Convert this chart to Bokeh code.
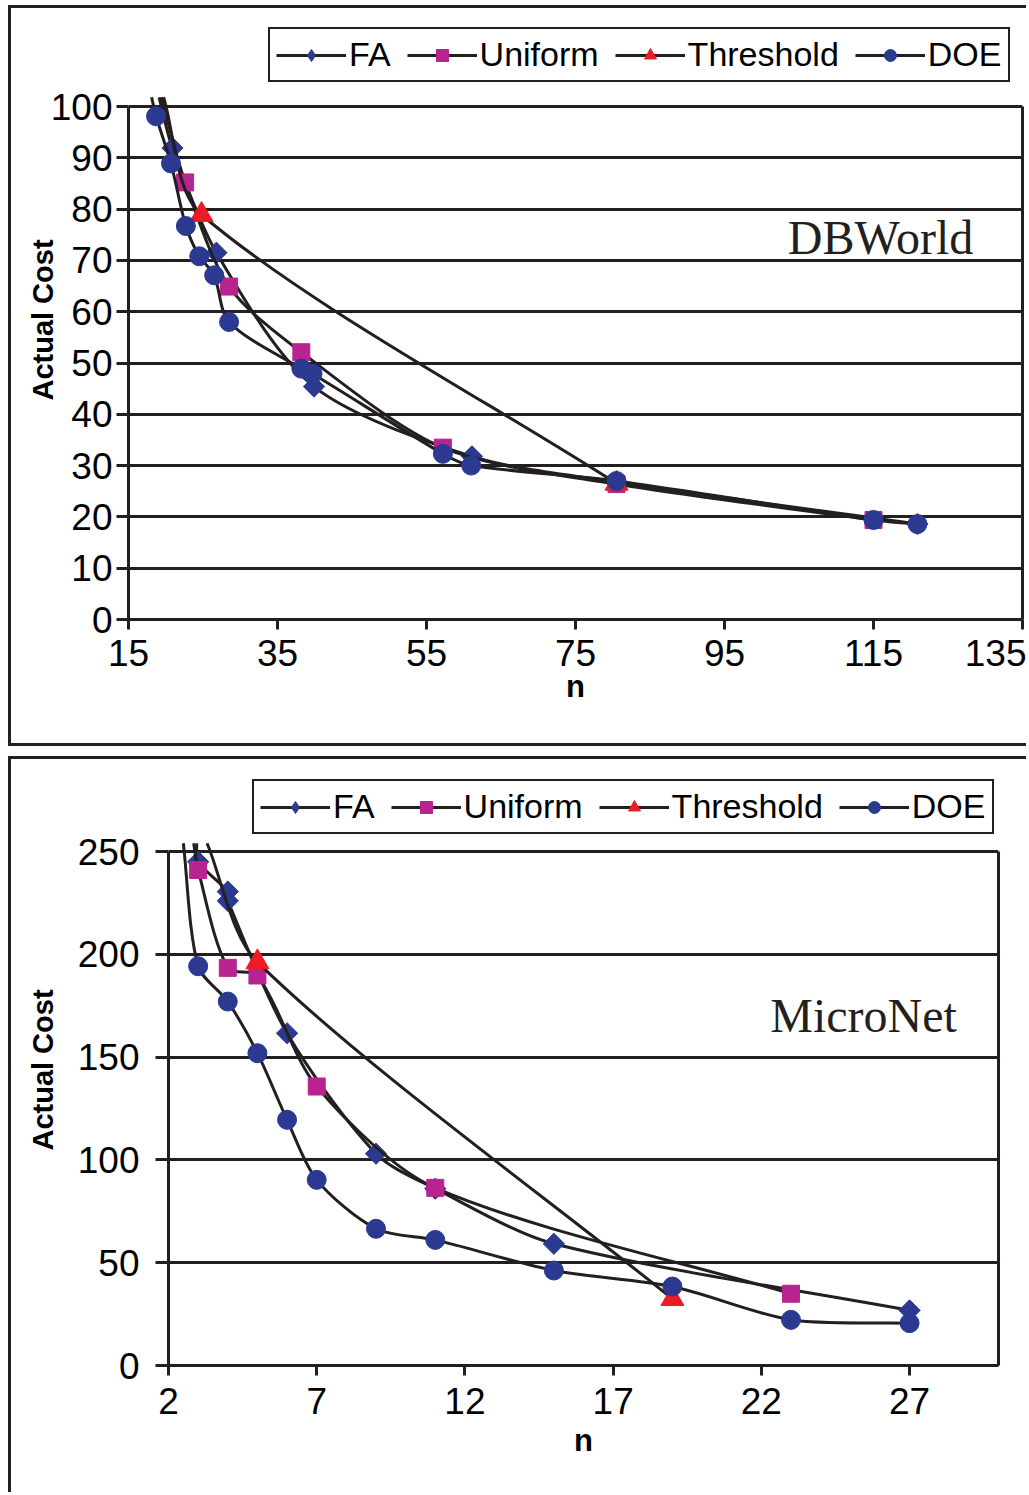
import numpy as np
from bokeh.plotting import figure
from bokeh.models import (ColumnDataSource, Legend, LegendItem, Label, FixedTicker, Range1d,
                          LinearAxis)
from bokeh.embed import file_html
from bokeh.resources import INLINE

# ---------------- DBWorld (top) ----------------
db_fa_n = [20.9, 26.8, 39.9, 61.1, 80.5, 120.9]
db_fa_cost = [91.9, 71.5, 45.4, 31.8, 26.8, 18.6]
db_uni_n = [22.6, 28.5, 38.2, 57.2, 80.5, 115.0]
db_uni_cost = [85.2, 64.9, 52.1, 33.5, 26.4, 19.4]
db_thr_n = [24.8, 80.5]
db_thr_cost = [78.9, 26.5]
db_doe_n = [18.7, 20.7, 22.7, 24.5, 26.5, 28.5, 38.2, 39.7, 57.2, 61.0, 80.5, 115.0, 120.9]
db_doe_cost = [98.1, 88.9, 76.7, 70.8, 67.1, 58.0, 48.9, 47.9, 32.3, 30.0, 27.0, 19.4, 18.6]
# where each curve leaves the top of the plot area (FA, Uniform, Threshold, DOE)
db_lead_n = [19.1, 19.4, 19.7, 18.1]
db_lead_cost = [101.8, 101.8, 101.8, 101.8]
db_xticks = [15, 35, 55, 75, 95, 115, 135]
db_yticks = [0, 10, 20, 30, 40, 50, 60, 70, 80, 90, 100]

# ---------------- MicroNet (bottom) ----------------
mn_fa_n = [3, 4, 4, 6, 9, 11, 15, 27]
mn_fa_cost = [245, 230.5, 226, 161.6, 103, 86, 59.2, 26.8]
mn_uni_n = [3, 4, 5, 7, 11, 23]
mn_uni_cost = [241, 193.4, 189.7, 135.7, 86.4, 34.9]
mn_thr_n = [5, 19]
mn_thr_cost = [196.2, 32.4]
mn_doe_n = [3, 4, 5, 6, 7, 9, 11, 15, 19, 23, 27]
mn_doe_cost = [194.2, 177, 151.9, 119.5, 90.3, 66.5, 61.1, 46.2, 38.4, 22.2, 20.6]
mn_lead_n = [2.95, 2.85, 3.3, 2.5]
mn_lead_cost = [254, 254, 254, 254]
mn_xticks = [2, 7, 12, 17, 22, 27]
mn_yticks = [0, 50, 100, 150, 200, 250]

series_names = ["FA", "Uniform", "Threshold", "DOE"]

BLUE = "#2B3990"
MAGENTA = "#B8238F"
RED = "#ED1C24"
INK = "#231F20"
SANS = "Liberation Sans"


def smooth_segments(xs, ys, kx, ky, tension=0.85):
    """Bezier control points (Catmull-Rom style) for a smoothed line through the points."""
    x = np.asarray(xs, float) * kx
    y = np.asarray(ys, float) * ky
    n = len(x)
    dx = np.zeros(n)
    dy = np.zeros(n)
    for i in range(n):
        a, b = max(i - 1, 0), min(i + 1, n - 1)
        vx, vy = x[b] - x[a], y[b] - y[a]
        L = np.hypot(vx, vy) or 1.0
        dx[i], dy[i] = vx / L, vy / L
    seg = np.hypot(np.diff(x), np.diff(y))
    c0x = x[:-1] + dx[:-1] * seg / 3 * tension
    c0y = y[:-1] + dy[:-1] * seg / 3 * tension
    c1x = x[1:] - dx[1:] * seg / 3 * tension
    c1y = y[1:] - dy[1:] * seg / 3 * tension
    return dict(x0=x[:-1] / kx, y0=y[:-1] / ky, x1=x[1:] / kx, y1=y[1:] / ky,
                cx0=c0x / kx, cy0=c0y / ky, cx1=c1x / kx, cy1=c1y / ky)


def make_panel(data, leads, xr, yr, ytop, xticks, yticks, kx, ky, mb, size,
               title_text, title_pos, legend_xy, ylab_standoff, ytitle_standoff,
               ytick_out, xlab_standoff, xtitle_standoff):
    w, h = size
    p = figure(width=w, height=h, output_backend="svg", toolbar_location=None,
               x_range=Range1d(*xr), y_range=Range1d(0, ytop),
               min_border_left=mb[0], min_border_right=mb[1],
               min_border_top=mb[2], min_border_bottom=mb[3])
    p.background_fill_color = "white"
    p.border_fill_color = "white"
    p.outline_line_color = None
    p.xgrid.visible = False
    p.ygrid.grid_line_color = INK
    p.ygrid.grid_line_width = 3
    p.xaxis.ticker = FixedTicker(ticks=xticks)
    p.yaxis.ticker = FixedTicker(ticks=yticks)
    p.yaxis.bounds = yr
    for ax in (p.xaxis[0], p.yaxis[0]):
        ax.axis_line_color = INK
        ax.axis_line_width = 3
        ax.major_tick_line_color = INK
        ax.major_tick_line_width = 3
        ax.major_tick_in = 0
        ax.minor_tick_line_color = None
        ax.major_label_text_font = SANS
        ax.major_label_text_font_size = "37px"
        ax.major_label_text_color = "black"
        ax.axis_label_text_font = SANS
        ax.axis_label_text_font_style = "bold"
        ax.axis_label_text_color = "black"
    p.xaxis.major_tick_out = 10
    p.yaxis.major_tick_out = ytick_out
    p.xaxis.major_label_standoff = xlab_standoff
    p.yaxis.major_label_standoff = ylab_standoff
    p.xaxis.axis_label = "n"
    p.xaxis.axis_label_text_font_size = "31px"
    p.xaxis.axis_label_standoff = xtitle_standoff
    p.yaxis.axis_label = "Actual Cost"
    p.yaxis.axis_label_text_font_size = "29px"
    p.yaxis.axis_label_standoff = ytitle_standoff

    # right-hand border of the plot area (only as tall as the value axis)
    rax = LinearAxis(bounds=yr, ticker=FixedTicker(ticks=[]), axis_line_color=INK,
                     axis_line_width=3, major_tick_out=0, major_tick_in=0,
                     minor_tick_out=0, minor_tick_in=0, major_label_standoff=0,
                     major_label_text_font_size="0px")
    p.add_layout(rax, "right")

    styles = [
        dict(color=BLUE, marker="square", size=15, angle=np.pi / 4, legend_marker="diamond"),
        dict(color=MAGENTA, marker="square", size=17, angle=0, legend_marker=None),
        dict(color=RED, marker="triangle", size=23, angle=0, legend_marker=None),
        dict(color=BLUE, marker="circle", size=19, angle=0, legend_marker=None),
    ]
    items = []
    for (xs, ys), (lx, ly), st, name in zip(data, leads, styles, series_names):
        segs = ColumnDataSource(smooth_segments([lx] + list(xs), [ly] + list(ys), kx, ky))
        br = p.bezier(x0="x0", y0="y0", x1="x1", y1="y1", cx0="cx0", cy0="cy0",
                      cx1="cx1", cy1="cy1", source=segs, line_color=INK, line_width=3)
        pts = ColumnDataSource(dict(x=xs, y=ys))
        sr = p.scatter(x="x", y="y", source=pts, marker=st["marker"], size=st["size"],
                       angle=st["angle"], fill_color=st["color"], line_color=st["color"],
                       line_width=1)
        if st["legend_marker"]:
            # legend swatch: the legend does not rotate markers, so use an un-rotated
            # diamond on the same points, drawn with zero size in the plot itself
            lr = p.scatter(x="x", y="y", source=pts, marker=st["legend_marker"], size=0,
                           fill_color=st["color"], line_color=st["color"])
            items.append(LegendItem(label=name, renderers=[br, lr]))
        else:
            items.append(LegendItem(label=name, renderers=[br, sr]))

    legend = Legend(items=items, orientation="horizontal", location=legend_xy,
                    label_text_font=SANS, label_text_font_size="34px",
                    label_text_color="black", glyph_width=70, glyph_height=30,
                    label_standoff=3, spacing=16, padding=6, margin=0,
                    border_line_color=INK, border_line_width=2.5, border_line_alpha=1.0,
                    background_fill_color="white", background_fill_alpha=1.0)
    p.add_layout(legend, "center")

    p.add_layout(Label(x=title_pos[0], y=title_pos[1], text=title_text,
                       text_font="Liberation Serif", text_font_size="48px",
                       text_color=INK, text_baseline="middle", text_align="left"))
    return p


top_data = [(db_fa_n, db_fa_cost), (db_uni_n, db_uni_cost),
            (db_thr_n, db_thr_cost), (db_doe_n, db_doe_cost)]
top_leads = list(zip(db_lead_n, db_lead_cost))
bot_data = [(mn_fa_n, mn_fa_cost), (mn_uni_n, mn_uni_cost),
            (mn_thr_n, mn_thr_cost), (mn_doe_n, mn_doe_cost)]
bot_leads = list(zip(mn_lead_n, mn_lead_cost))

# top: frame 128..1022 x 20..619 (value 100 at y=106)
p1 = make_panel(top_data, top_leads, (15, 135), (0, 100), 100 * 599 / 513,
                db_xticks, db_yticks, 7.45, 5.13,
                (117, 7, 12, 130), (1018, 741), "DBWorld", (103.5, 74.5),
                legend_xy=(140, 537), ylab_standoff=4, ytitle_standoff=-11, ytick_out=12,
                xlab_standoff=10, xtitle_standoff=0)
p1.margin = (5, 0, 0, 8)
p1.styles = {"border-left": "3px solid #231F20", "border-top": "3px solid #231F20",
             "border-bottom": "3px solid #231F20"}

# bottom: frame 168..998 x 774..1365 (value 250 at y=851)
p2 = make_panel(bot_data, bot_leads, (2, 30), (0, 250), 250 * 591 / 514,
                mn_xticks, mn_yticks, 29.68, 2.056,
                (157, 31, 15, 130), (1018, 736), "MicroNet", (22.3, 170),
                legend_xy=(84, 531), ylab_standoff=16, ytitle_standoff=16, ytick_out=13,
                xlab_standoff=12, xtitle_standoff=6)
p2.margin = (10, 0, 0, 8)
p2.styles = {"border-left": "3px solid #231F20", "border-top": "3px solid #231F20"}

open("out.html", "w").write(file_html((p1, p2), INLINE))
